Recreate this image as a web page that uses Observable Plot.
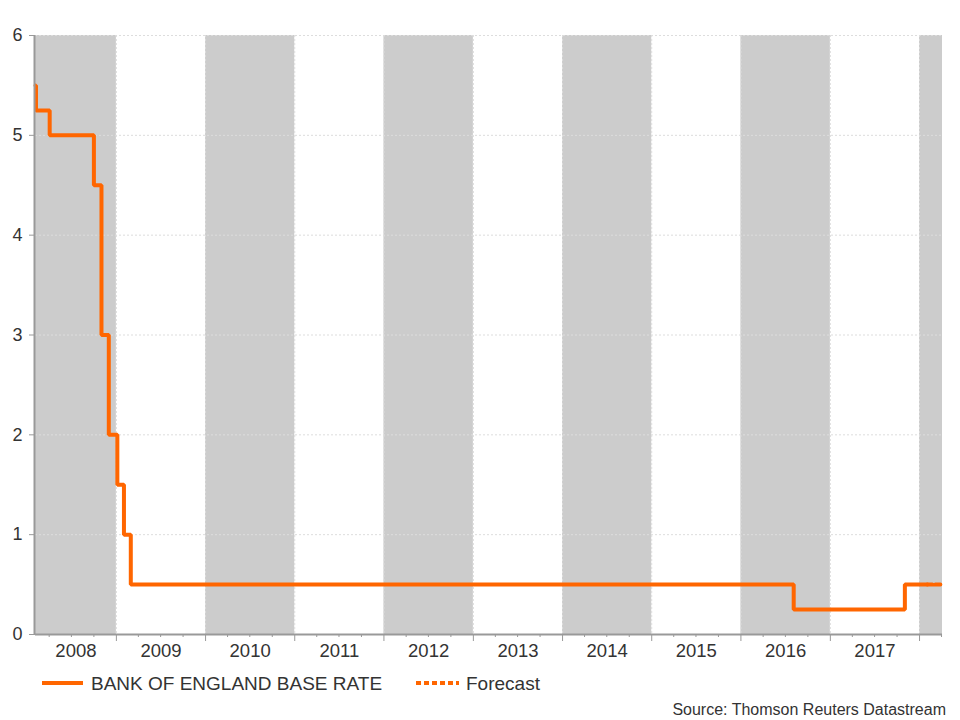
<!DOCTYPE html>
<html>
<head>
<meta charset="utf-8">
<script src="https://cdn.jsdelivr.net/npm/d3@7"></script>
<script src="https://cdn.jsdelivr.net/npm/@observablehq/plot@0.6"></script>
<style>
  html, body { margin: 0; padding: 0; background: #fff; }
  #wrap { position: relative; width: 960px; height: 720px; font-family: "Liberation Sans", Arial, sans-serif; color: #333; }
  #chart { position: absolute; left: 0; top: 0; }
  .leg { position: absolute; font-size: 19px; line-height: 20px; white-space: nowrap; }
  .swatch { position: absolute; }
  #source { position: absolute; right: 14px; top: 700px; font-size: 16px; line-height: 20px; white-space: nowrap; }
</style>
</head>
<body>
<div id="wrap">
  <div id="chart"></div>
  <svg class="swatch" style="left:42px; top:679px;" width="42" height="8"><line x1="0" x2="41" y1="4" y2="4" stroke="#ff6600" stroke-width="4"/></svg>
  <div class="leg" style="left:91px; top:674px;">BANK OF ENGLAND BASE RATE</div>
  <svg class="swatch" style="left:416px; top:679px;" width="44" height="8"><line x1="0" x2="43" y1="4" y2="4" stroke="#ff6600" stroke-width="4" stroke-dasharray="5,3"/></svg>
  <div class="leg" style="left:466px; top:674px;">Forecast</div>
  <div id="source">Source: Thomson Reuters Datastream</div>
</div>
<script>
// ---- data ----
const rateDates  = ["2008-02-05","2008-02-07","2008-04-03","2008-10-01","2008-11-01","2008-12-01","2009-01-05","2009-02-01","2009-03-01","2016-08-04","2017-11-02","2018-02-02"];
const rateValues = [5.5, 5.25, 5.0, 4.5, 3.0, 2.0, 1.5, 1.0, 0.5, 0.25, 0.5, 0.5];
const forecastDates  = ["2018-02-02","2018-04-05"];
const forecastValues = [0.5, 0.5];
const shadedYears = [2008, 2010, 2012, 2014, 2016, 2018];
const labelYears  = [2008, 2009, 2010, 2011, 2012, 2013, 2014, 2015, 2016, 2017];
const yTicks = [0, 1, 2, 3, 4, 5, 6];
const domainStart = "2008-02-05";
const domainEnd   = "2018-04-05";

// ---- derived tables ----
const x0 = new Date(domainStart), x1 = new Date(domainEnd);
const clip = d => new Date(Math.min(Math.max(+d, +x0), +x1));
const rate = rateDates.map((d, i) => ({date: new Date(d), value: rateValues[i]}));
const forecast = forecastDates.map((d, i) => ({date: new Date(d), value: forecastValues[i]}));
const bands = shadedYears.map(y => ({x1: clip(Date.UTC(y, 0, 1)), x2: clip(Date.UTC(y + 1, 0, 1))}));
const yearStarts = d3.range(2009, 2019).map(y => new Date(Date.UTC(y, 0, 1)));
const quarterTicks = d3.utcMonth.every(3).range(x0, x1).filter(d => d.getUTCMonth() !== 0);
const labels = labelYears.map(y => {
  const a = clip(Date.UTC(y, 0, 1)), b = clip(Date.UTC(y + 1, 0, 1));
  return {x: new Date((+a + +b) / 2), text: String(y)};
});

const chart = Plot.plot({
  width: 960,
  height: 670,
  marginLeft: 35,
  marginRight: 18,
  marginTop: 35,
  marginBottom: 36,
  style: {fontFamily: "'Liberation Sans', Arial, sans-serif", color: "#333", background: "#fff"},
  x: {type: "utc", domain: [x0, x1]},
  y: {domain: [0, 6]},
  marks: [
    Plot.rect(bands, {x1: "x1", x2: "x2", y1: 0, y2: 6, fill: "#cccccc"}),
    Plot.ruleY(yTicks.filter(d => d > 0), {stroke: "#dddddd", strokeDasharray: "2,2", strokeWidth: 1}),
    Plot.ruleX(yearStarts, {stroke: "#dddddd", strokeDasharray: "2,2", strokeWidth: 1}),
    Plot.line(rate, {x: "date", y: "value", curve: "step-after", stroke: "#ff6600", strokeWidth: 4, strokeLinejoin: "miter"}),
    Plot.line(forecast, {x: "date", y: "value", stroke: "#ff6600", strokeWidth: 4, strokeDasharray: "5,3"}),
    Plot.ruleY([0], {stroke: "#999", strokeWidth: 2}),
    Plot.ruleX([x0], {stroke: "#999", strokeWidth: 2, dx: -1}),
    Plot.axisY({ticks: yTicks, tickSize: 6, tickPadding: 7, tickFormat: d => String(d), label: null, fontSize: 18, stroke: "#999", fill: "#333"}),
    Plot.axisX({ticks: yearStarts, tickSize: 7, tickFormat: () => "", label: null, stroke: "#999"}),
    Plot.axisX({ticks: quarterTicks, tickSize: 3, tickFormat: () => "", label: null, stroke: "#999"}),
    Plot.text(labels, {x: "x", text: "text", frameAnchor: "bottom", dy: 22, fontSize: 18.5, fill: "#333"})
  ]
});
document.getElementById("chart").appendChild(chart);
</script>
</body>
</html>
